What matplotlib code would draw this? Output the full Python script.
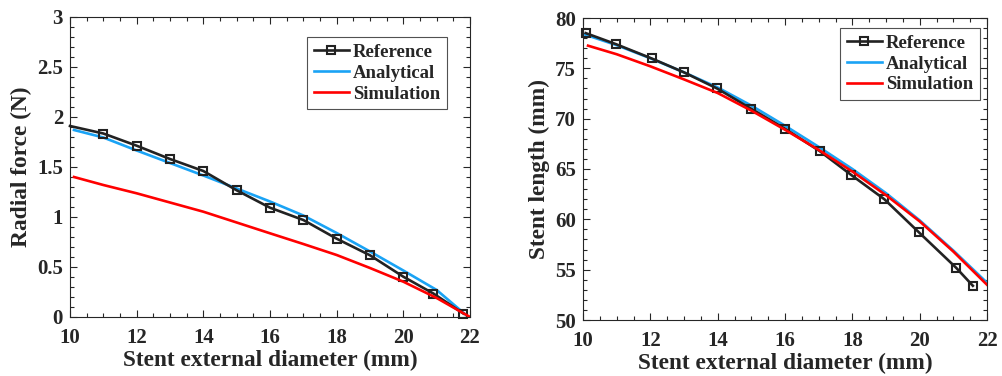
import matplotlib
matplotlib.use("Agg")
import matplotlib.pyplot as plt
from matplotlib.ticker import MultipleLocator, FuncFormatter

plt.rcParams['font.family'] = ['Liberation Serif', 'DejaVu Serif']
plt.rcParams['font.weight'] = 'bold'

# ---- Radial force vs. external diameter ----
force_ref_x = [10.0, 11.0, 12.0, 13.0, 14.0, 15.0, 16.0, 17.0, 18.0, 19.0, 20.0, 20.9, 21.8]
force_ref_y = [1.91, 1.835, 1.713, 1.58, 1.46, 1.267, 1.093, 0.97, 0.783, 0.617, 0.403, 0.235, 0.035]
force_ana_x = [10.12, 11.0, 12.0, 13.0, 14.0, 15.0, 16.0, 17.0, 18.0, 19.0, 20.0, 21.0, 21.95]
force_ana_y = [1.87, 1.795, 1.665, 1.54, 1.415, 1.285, 1.155, 1.015, 0.84, 0.655, 0.465, 0.27, 0.0]
force_sim_x = [10.12, 11.0, 12.0, 13.0, 14.0, 15.0, 16.0, 17.0, 18.0, 19.0, 20.0, 21.0, 22.0]
force_sim_y = [1.40, 1.32, 1.237, 1.145, 1.053, 0.945, 0.837, 0.73, 0.62, 0.49, 0.353, 0.19, 0.0]

# ---- Stent length vs. external diameter ----
length_ref_x = [10.08, 10.98, 12.04, 13.0, 13.98, 14.99, 16.0, 17.03, 17.97, 18.95, 19.98, 21.08, 21.58]
length_ref_y = [78.5, 77.4, 75.98, 74.6, 73.0, 71.0, 69.0, 66.78, 64.4, 62.0, 58.7, 55.2, 53.4]
length_ana_x = [10.06, 11.0, 12.0, 13.0, 14.0, 15.0, 16.0, 17.0, 18.0, 19.0, 20.0, 21.0, 22.0]
length_ana_y = [78.35, 77.3, 76.0, 74.6, 73.1, 71.3, 69.3, 67.2, 65.0, 62.6, 59.9, 56.9, 53.7]
length_sim_x = [10.15, 11.0, 12.0, 13.0, 14.0, 15.0, 16.0, 17.0, 18.0, 19.0, 20.0, 21.0, 22.0]
length_sim_y = [77.25, 76.4, 75.2, 73.9, 72.55, 70.8, 68.9, 66.9, 64.75, 62.4, 59.8, 56.8, 53.5]

series_names = ['Reference', 'Analytical', 'Simulation']
x_label = 'Stent external diameter (mm)'

C_REF = '#222222'
C_ANA = '#1aa3f5'
C_SIM = '#ff0000'
C_TXT = '#262626'

fig = plt.figure(figsize=(10.02, 3.76), dpi=100)
ax1 = fig.add_axes([70 / 1002, 59 / 376, 400 / 1002, 300 / 376])
ax2 = fig.add_axes([583 / 1002, 56 / 376, 404 / 1002, 302 / 376])


def style_axes(ax, ymaj, ymin):
    ax.set_xlim(10, 22)
    ax.xaxis.set_major_locator(MultipleLocator(2))
    ax.xaxis.set_minor_locator(MultipleLocator(0.5))
    ax.yaxis.set_major_locator(MultipleLocator(ymaj))
    ax.yaxis.set_minor_locator(MultipleLocator(ymin))
    ax.yaxis.set_major_formatter(FuncFormatter(lambda v, p: '%g' % v))
    ax.tick_params(which='both', direction='in', top=True, right=True,
                   colors=C_TXT, labelcolor=C_TXT, labelsize=15)
    ax.tick_params(axis='x', which='major', pad=8)
    ax.tick_params(axis='y', which='major', pad=5)
    ax.tick_params(which='major', length=5, width=0.8)
    ax.tick_params(which='minor', length=3, width=0.8)
    for lab in ax.get_xticklabels() + ax.get_yticklabels():
        lab.set_fontweight('bold')
    for sp in ax.spines.values():
        sp.set_color(C_TXT)
        sp.set_linewidth(0.8)
    ax.set_xlabel(x_label, fontsize=16.8, fontweight='bold', color=C_TXT, labelpad=1)


def draw(ax, rx, ry, ax_, ay, sx, sy, mark_first):
    mk = slice(0, None) if mark_first else slice(1, None)
    ax.plot(rx, ry, color=C_REF, lw=1.9, marker='s', ms=6, mfc='none',
            mec=C_REF, mew=1.5, markevery=mk, label=series_names[0], clip_on=False, zorder=3)
    ax.plot(ax_, ay, color=C_ANA, lw=1.9, label=series_names[1], zorder=2)
    ax.plot(sx, sy, color=C_SIM, lw=1.9, label=series_names[2], zorder=4)


draw(ax1, force_ref_x, force_ref_y, force_ana_x, force_ana_y, force_sim_x, force_sim_y, False)
style_axes(ax1, 0.5, 0.1)
ax1.set_ylim(0, 3)
ax1.set_ylabel('Radial force (N)', fontsize=16.8, fontweight='bold', color=C_TXT, labelpad=4)

draw(ax2, length_ref_x, length_ref_y, length_ana_x, length_ana_y, length_sim_x, length_sim_y, True)
style_axes(ax2, 5, 1)
ax2.set_ylim(50, 80)
ax2.set_ylabel('Stent length (mm)', fontsize=16.8, fontweight='bold', color=C_TXT, labelpad=4)

for ax, loc in ((ax1, (0.5925, 0.933)), (ax2, (0.636, 0.967))):
    leg = ax.legend(loc='upper left', bbox_to_anchor=loc, fancybox=False, frameon=True,
                    prop={'weight': 'bold', 'size': 13.5}, handlelength=1.9,
                    handletextpad=0.2, borderpad=0.35, labelspacing=0.2, borderaxespad=0)
    leg.get_frame().set_edgecolor(C_TXT)
    leg.get_frame().set_linewidth(0.8)
    for t in leg.get_texts():
        t.set_color(C_TXT)

fig.savefig('out.png', dpi=100)
